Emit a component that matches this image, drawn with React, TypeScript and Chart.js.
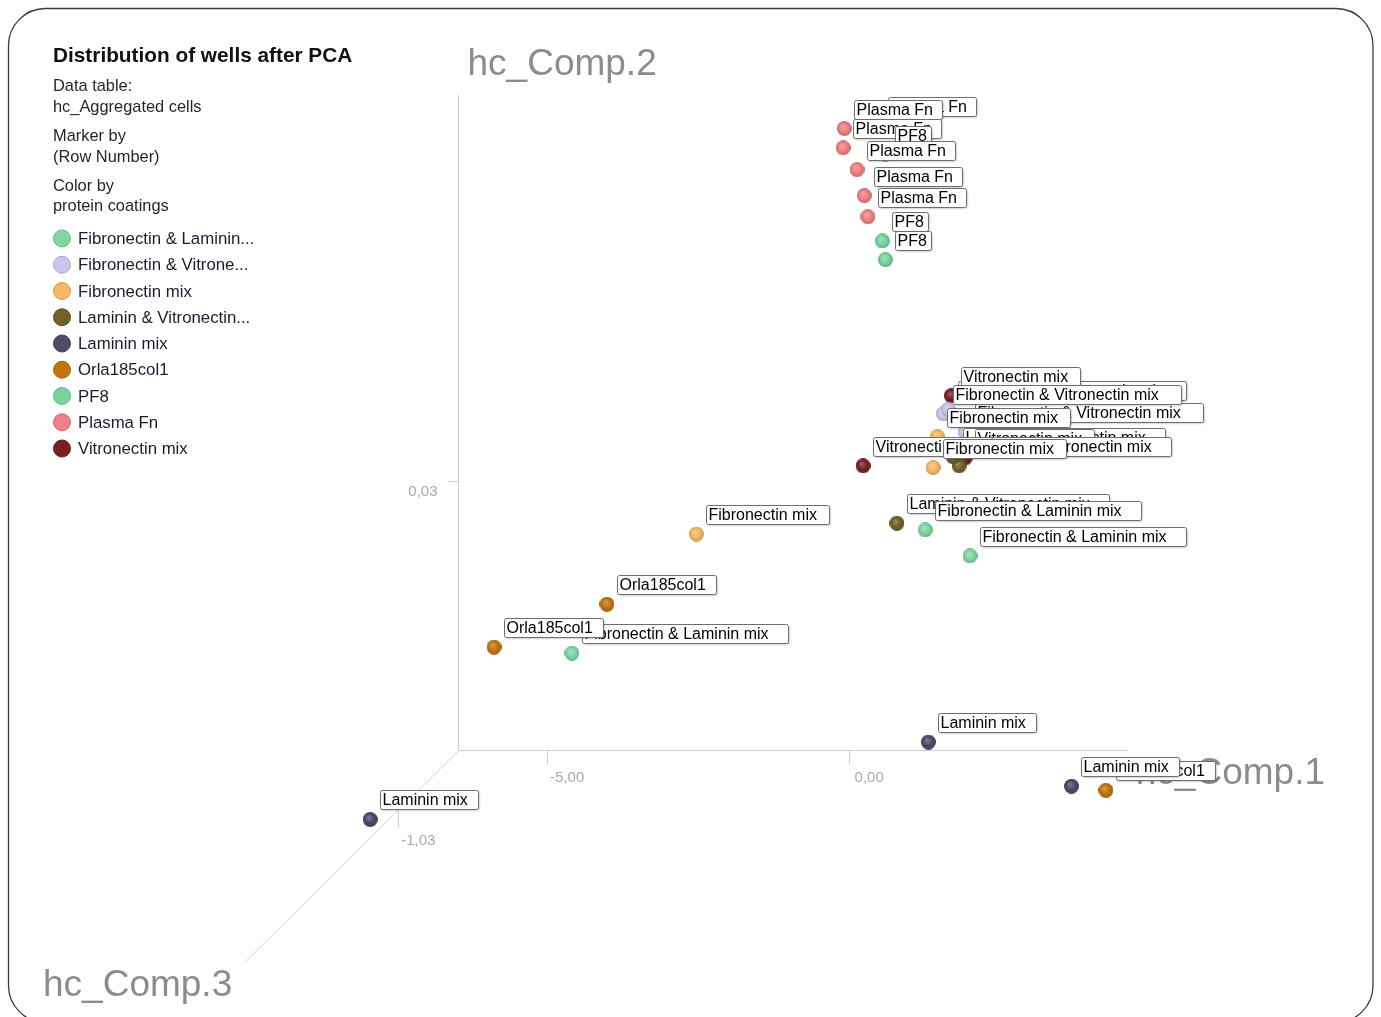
import React, { useEffect, useRef } from "react";
import { Chart, registerables } from "chart.js";
Chart.register(...registerables);

// ---------- data ----------
const TITLE = "Distribution of wells after PCA";
const INFO_LINES = ["Data table:", "hc_Aggregated cells", "Marker by", "(Row Number)", "Color by", "protein coatings"];

const CATEGORIES = [
  "Fibronectin & Laminin mix",
  "Fibronectin & Vitronectin mix",
  "Fibronectin mix",
  "Laminin & Vitronectin mix",
  "Laminin mix",
  "Orla185col1",
  "PF8",
  "Plasma Fn",
  "Vitronectin mix",
];
const LEGEND_LABELS = [
  "Fibronectin & Laminin...",
  "Fibronectin & Vitrone...",
  "Fibronectin mix",
  "Laminin & Vitronectin...",
  "Laminin mix",
  "Orla185col1",
  "PF8",
  "Plasma Fn",
  "Vitronectin mix",
];
const COLORS = ["#7fd6a3", "#cbc4ee", "#f6b865", "#6f6228", "#4c4a6d", "#c2740f", "#78d59c", "#ef8083", "#7a2024"];

// projected hc_Comp.1 / hc_Comp.2 values per category
const FIB_LAM_X = [1.26, 2.0, -4.59];
const FIB_LAM_Y = [-0.78, -1.21, -2.82];
const FIB_VIT_X = [1.56, 1.64, 1.92];
const FIB_VIT_Y = [1.14, 1.21, 0.84];
const FIB_MIX_X = [1.46, 1.39, -2.53];
const FIB_MIX_Y = [0.76, 0.25, -0.85];
const LAM_VIT_X = [1.82, 1.72, 0.79];
const LAM_VIT_Y = [0.28, 0.43, -0.67];
const LAM_MIX_X = [1.31, 3.68, -7.93];
const LAM_MIX_Y = [-4.29, -5.02, -5.57];
const ORLA_X = [-4.01, -5.88, 4.25];
const ORLA_Y = [-2.01, -2.72, -5.09];
const PF8_X = [0.6, 0.55, 0.6];
const PF8_Y = [5.43, 4.0, 3.69];
const PLASMA_X = [-0.08, 0.48, -0.1, 0.13, 0.25, 0.31];
const PLASMA_Y = [5.86, 5.91, 5.54, 5.18, 4.75, 4.4];
const VIT_MIX_X = [0.23, 1.69, 1.92];
const VIT_MIX_Y = [0.28, 1.44, 0.41];

const SERIES_X = [FIB_LAM_X, FIB_VIT_X, FIB_MIX_X, LAM_VIT_X, LAM_MIX_X, ORLA_X, PF8_X, PLASMA_X, VIT_MIX_X];
const SERIES_Y = [FIB_LAM_Y, FIB_VIT_Y, FIB_MIX_Y, LAM_VIT_Y, LAM_MIX_Y, ORLA_Y, PF8_Y, PLASMA_Y, VIT_MIX_Y];

// label drawing order (back to front): [category index, point index]
const LABEL_ORDER: [number, number][] = [
  [7, 1], [7, 0], [7, 2], [6, 0], [7, 3], [7, 4], [7, 5], [6, 1], [6, 2],
  [1, 1], [8, 1], [1, 2], [1, 0], [2, 0], [3, 1], [8, 2], [3, 0], [8, 0], [2, 1],
  [3, 2], [0, 0], [0, 1], [2, 2], [5, 0], [0, 2], [5, 1], [4, 0], [5, 2], [4, 1], [4, 2],
];

// view range of the projected plane
const X_MIN = -8.43;
const X_MAX = 4.98;
const Y_MIN = -5.91;
const Y_MAX = 6.58;
// drawn axes (hc_Comp.1 horizontal, hc_Comp.2 vertical, hc_Comp.3 receding)
const AXIS_X_START = -6.47;
const AXIS_X_END = 4.62;
const AXIS_Y_START = -4.42;
const AXIS_Y_END = 6.42;
const Z_AXIS_END = { x: -10.0, y: -7.93 };
const X_TICKS = [-5, 0];
const X_TICK_LABELS = ["-5,00", "0,00"];
const Y_TICKS = [0.03];
const Y_TICK_LABELS = ["0,03"];
const Z_TICK_FRACTION = [0.282];
const Z_TICK_LABELS = ["-1,03"];
const AXIS_TITLES = ["hc_Comp.1", "hc_Comp.2", "hc_Comp.3"];

const FONT = '"Liberation Sans", Arial, sans-serif';

function mix(hex: string, target: number, t: number) {
  const n = parseInt(hex.slice(1), 16);
  const r = (n >> 16) & 255, g = (n >> 8) & 255, b = n & 255;
  const f = (c: number) => Math.round(c + (target - c) * t);
  return `rgb(${f(r)},${f(g)},${f(b)})`;
}

function sphere(color: string, d: number) {
  const c = document.createElement("canvas");
  c.width = d;
  c.height = d;
  const ctx = c.getContext("2d")!;
  const g = ctx.createRadialGradient(d * 0.4, d * 0.36, d * 0.05, d / 2, d / 2, d / 2);
  g.addColorStop(0, mix(color, 255, 0.25));
  g.addColorStop(0.55, color);
  g.addColorStop(1, mix(color, 0, 0.18));
  ctx.fillStyle = g;
  ctx.beginPath();
  ctx.arc(d / 2, d / 2, d / 2, 0, Math.PI * 2);
  ctx.fill();
  return c;
}

const scenePlugin = {
  id: "scene",
  beforeDatasetsDraw(chart: any) {
    const ctx = chart.ctx as CanvasRenderingContext2D;
    const xs = chart.scales.x;
    const ys = chart.scales.y;
    ctx.save();
    // frame
    ctx.strokeStyle = "#3a3a3a";
    ctx.lineWidth = 1.3;
    ctx.beginPath();
    (ctx as any).roundRect(8.5, 8.5, 1364.5, 1014, 37);
    ctx.stroke();

    // left panel
    ctx.fillStyle = "#111";
    ctx.textBaseline = "middle";
    ctx.textAlign = "left";
    ctx.font = `bold 20.8px ${FONT}`;
    ctx.fillText(TITLE, 53, 56);
    ctx.font = `16.4px ${FONT}`;
    ctx.fillStyle = "#262626";
    const infoY = [86, 107, 136, 157, 186, 206];
    INFO_LINES.forEach((t, i) => ctx.fillText(t, 53, infoY[i]));
    ctx.font = `16.8px ${FONT}`;
    LEGEND_LABELS.forEach((t, i) => {
      const y = 238.5 + i * 26.25;
      ctx.beginPath();
      ctx.arc(62, y, 8.5, 0, Math.PI * 2);
      ctx.fillStyle = COLORS[i];
      ctx.fill();
      ctx.strokeStyle = mix(COLORS[i], 0, 0.15);
      ctx.lineWidth = 1;
      ctx.stroke();
      ctx.fillStyle = "#1c1b30";
      ctx.fillText(t, 78, y + 1);
    });

    // axes
    const ox = Math.round(xs.getPixelForValue(AXIS_X_START)) + 0.5;
    const oy = Math.round(ys.getPixelForValue(AXIS_Y_START)) + 0.5;
    const top = ys.getPixelForValue(AXIS_Y_END);
    const right = xs.getPixelForValue(AXIS_X_END);
    ctx.strokeStyle = "#cfcfcf";
    ctx.lineWidth = 1;
    ctx.beginPath();
    ctx.moveTo(ox, top);
    ctx.lineTo(ox, oy);
    ctx.lineTo(right, oy);
    const zx = xs.getPixelForValue(Z_AXIS_END.x), zy = ys.getPixelForValue(Z_AXIS_END.y);
    ctx.moveTo(ox, oy);
    ctx.lineTo(zx, zy);
    ctx.stroke();

    ctx.font = `15px ${FONT}`;
    ctx.fillStyle = "#aaaaaa";
    ctx.beginPath();
    X_TICKS.forEach((v) => {
      const px = Math.round(xs.getPixelForValue(v)) + 0.5;
      ctx.moveTo(px, oy);
      ctx.lineTo(px, oy + 14);
    });
    Y_TICKS.forEach((v) => {
      const py = Math.round(ys.getPixelForValue(v)) + 0.5;
      ctx.moveTo(ox - 11, py);
      ctx.lineTo(ox, py);
    });
    Z_TICK_FRACTION.forEach((f) => {
      const px = Math.round(ox + (zx - ox) * f) + 0.5;
      const py = oy + (zy - oy) * f;
      ctx.moveTo(px, py);
      ctx.lineTo(px, py + 17);
    });
    ctx.stroke();
    ctx.textAlign = "center";
    X_TICKS.forEach((v, i) => {
      ctx.fillText(X_TICK_LABELS[i], xs.getPixelForValue(v) + 20, oy + 27);
    });
    ctx.textAlign = "right";
    Y_TICKS.forEach((v, i) => {
      ctx.fillText(Y_TICK_LABELS[i], ox - 21, ys.getPixelForValue(v) + 11);
    });
    ctx.textAlign = "center";
    Z_TICK_FRACTION.forEach((f, i) => {
      const px = ox + (zx - ox) * f;
      const py = oy + (zy - oy) * f;
      ctx.fillText(Z_TICK_LABELS[i], px + 20, py + 31);
    });

    // axis titles
    ctx.font = `37px ${FONT}`;
    ctx.fillStyle = "#8c8c8c";
    ctx.textAlign = "right";
    ctx.fillText(AXIS_TITLES[0], 1325, oy + 23);
    ctx.textAlign = "left";
    ctx.fillText(AXIS_TITLES[1], ox + 9, top - 30);
    ctx.textAlign = "left";
    ctx.fillText(AXIS_TITLES[2], 43, zy + 24);
    ctx.restore();
  },
  afterDatasetsDraw(chart: any) {
    const ctx = chart.ctx as CanvasRenderingContext2D;
    ctx.save();
    ctx.font = `16px ${FONT}`;
    ctx.textBaseline = "middle";
    ctx.textAlign = "left";
    LABEL_ORDER.forEach(([ci, pi]) => {
      const el = chart.getDatasetMeta(ci).data[pi];
      if (!el) return;
      const text = CATEGORIES[ci];
      const w = Math.round(ctx.measureText(text).width * 1.1 + 4);
      const left = Math.round(el.x + 10) + 0.5;
      const top = Math.round(el.y - 29) + 0.5;
      ctx.save();
      ctx.shadowColor = "rgba(0,0,0,0.28)";
      ctx.shadowBlur = 2;
      ctx.shadowOffsetX = 1;
      ctx.shadowOffsetY = 1;
      ctx.fillStyle = "#ffffff";
      ctx.beginPath();
      (ctx as any).roundRect(left, top, w, 19, 2);
      ctx.fill();
      ctx.restore();
      ctx.strokeStyle = "#6e6e6e";
      ctx.lineWidth = 1;
      ctx.beginPath();
      (ctx as any).roundRect(left, top, w, 19, 2);
      ctx.stroke();
      ctx.fillStyle = "#000";
      ctx.fillText(text, left + 2, top + 10);
    });
    ctx.restore();
  },
};

export default function App() {
  const ref = useRef<HTMLCanvasElement>(null);
  useEffect(() => {
    if (!ref.current) return;
    const datasets = CATEGORIES.map((name, i) => ({
      label: name,
      data: SERIES_X[i].map((x, j) => ({ x, y: SERIES_Y[i][j] })),
      pointStyle: sphere(COLORS[i], 15) as any,
      pointRadius: 7.5,
      backgroundColor: COLORS[i],
      borderWidth: 0,
      clip: false as any,
    }));
    const chart = new Chart(ref.current, {
      type: "scatter",
      data: { datasets },
      options: {
        responsive: false,
        animation: false,
        events: [],
        layout: { padding: { left: 340, right: 231, top: 85, bottom: 177 } },
        scales: {
          x: { type: "linear", min: X_MIN, max: X_MAX, display: false },
          y: { type: "linear", min: Y_MIN, max: Y_MAX, display: false },
        },
        plugins: { legend: { display: false }, tooltip: { enabled: false } },
      },
      plugins: [scenePlugin],
    });
    return () => chart.destroy();
  }, []);
  return (
    <div style={{ position: "fixed", left: 0, top: 0, width: 1381, height: 1017, overflow: "hidden", background: "#fff" }}>
      <canvas ref={ref} width={1381} height={1017} style={{ display: "block" }} />
    </div>
  );
}
